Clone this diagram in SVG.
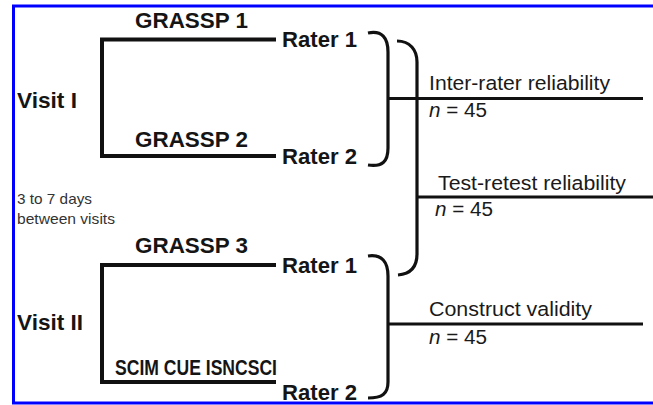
<svg xmlns="http://www.w3.org/2000/svg" width="653" height="405" viewBox="0 0 653 405">
<style>
.b{font-family:"Liberation Sans",Arial,sans-serif;font-weight:bold;font-size:22px;fill:#151515}
.r{font-family:"Liberation Sans",Arial,sans-serif;font-size:20.5px;fill:#1a1a1a}
.s{font-family:"Liberation Sans",Arial,sans-serif;font-size:15px;fill:#333}
.thick{fill:none;stroke:#111;stroke-width:4}
.brace{fill:none;stroke:#111;stroke-width:3.2}
.line{fill:none;stroke:#111;stroke-width:3}
</style>
<rect x="0" y="0" width="653" height="405" fill="#fff"/>
<rect x="13.5" y="6" width="660" height="397" fill="none" stroke="#0000ff" stroke-width="3"/>
<g id="connectors">
  <path class="thick" d="M276 39.5 H102 V156 H276"/>
  <path class="thick" d="M276 265 H102 V382 H276"/>
  <path class="brace" d="M368 33 C382 30 388 38 388 52 L388 148 C388 162 382 167 368 165"/>
  <path class="brace" d="M397 41 C410 41 417 50 417 62 L417 254 C417 268 410 274 398 275"/>
  <path class="brace" d="M368 256 C382 254 388 262 388 276 L388 382 C388 394 382 398 368 398"/>
  <path class="line" d="M388 98.5 H643"/>
  <path class="line" d="M417 197 H653"/>
  <path class="line" d="M388 324 H643"/>
</g>
<g id="visit1"><text class="b" x="17" y="108" textLength="60" lengthAdjust="spacingAndGlyphs">Visit I</text></g>
<g id="visit2"><text class="b" x="17" y="330" textLength="66" lengthAdjust="spacingAndGlyphs">Visit II</text></g>
<g id="gap"><text class="s" x="17" y="204" textLength="75" lengthAdjust="spacingAndGlyphs">3 to 7 days</text><text class="s" x="17" y="224" textLength="98" lengthAdjust="spacingAndGlyphs">between visits</text></g>
<g id="grassp1"><text class="b" x="135" y="28" textLength="113" lengthAdjust="spacingAndGlyphs">GRASSP 1</text></g>
<g id="grassp2"><text class="b" x="135" y="147" textLength="113" lengthAdjust="spacingAndGlyphs">GRASSP 2</text></g>
<g id="grassp3"><text class="b" x="135" y="253" textLength="113" lengthAdjust="spacingAndGlyphs">GRASSP 3</text></g>
<g id="scim"><text class="b" x="115" y="375" textLength="162" lengthAdjust="spacingAndGlyphs">SCIM CUE ISNCSCI</text></g>
<g id="rater1a"><text class="b" x="282" y="47" textLength="75" lengthAdjust="spacingAndGlyphs">Rater 1</text></g>
<g id="rater2a"><text class="b" x="282" y="164" textLength="75" lengthAdjust="spacingAndGlyphs">Rater 2</text></g>
<g id="rater1b"><text class="b" x="282" y="273" textLength="75" lengthAdjust="spacingAndGlyphs">Rater 1</text></g>
<g id="rater2b"><text class="b" x="282" y="400" textLength="75" lengthAdjust="spacingAndGlyphs">Rater 2</text></g>
<g id="interrater">
  <text class="r" x="429" y="90" textLength="181" lengthAdjust="spacingAndGlyphs">Inter-rater reliability</text>
  <text class="r" x="429" y="117" textLength="58" lengthAdjust="spacingAndGlyphs"><tspan font-style="italic">n</tspan> = 45</text>
</g>
<g id="testretest">
  <text class="r" x="438" y="190" textLength="188" lengthAdjust="spacingAndGlyphs">Test-retest reliability</text>
  <text class="r" x="435" y="216" textLength="58" lengthAdjust="spacingAndGlyphs"><tspan font-style="italic">n</tspan> = 45</text>
</g>
<g id="construct">
  <text class="r" x="429" y="316" textLength="163" lengthAdjust="spacingAndGlyphs">Construct validity</text>
  <text class="r" x="429" y="344" textLength="58" lengthAdjust="spacingAndGlyphs"><tspan font-style="italic">n</tspan> = 45</text>
</g>
</svg>
